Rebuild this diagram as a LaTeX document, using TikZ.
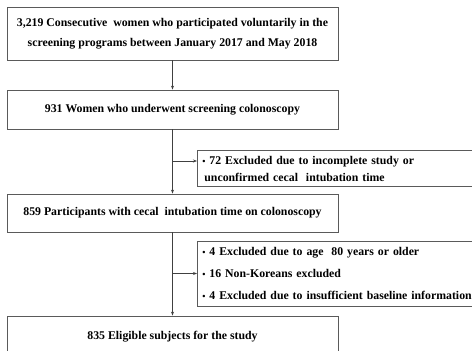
\documentclass[tikz,border=0pt]{standalone}
\usepackage{fontspec}
\setmainfont{Liberation Serif}
\usepackage{tikz}
\usetikzlibrary{positioning,arrows.meta}
\definecolor{frame}{HTML}{5A5A5A}
\definecolor{wire}{HTML}{404040}
\newcommand{\dotmark}{{\fontsize{9}{9}\selectfont\textbullet}\ }

\begin{document}
\begin{tikzpicture}[x=1pt,y=-1pt,font=\fontsize{11.8}{20}\selectfont\bfseries,
  stagebox/.style={draw=frame,line width=0.8pt,fill=white,minimum width=331pt,align=center,inner sep=0pt},
  exclbox/.style={draw=frame,line width=0.8pt,fill=white,minimum width=283pt,text width=290pt,align=left,inner xsep=5pt,inner ysep=0pt},
  flow/.style={wire,line width=0.7pt,-{Stealth[length=4pt,width=3pt]}}]
  \clip (0,0) rectangle (472,351);
  \fill[white] (0,0) rectangle (472,351);
  \node[stagebox,minimum height=53pt] (enrolled) at (172.5,33.5) {3,219 Consecutive\ \ women who participated voluntarily in the\\ screening programs between January 2017 and May 2018};
  \node[stagebox,minimum height=39pt] (colono) at (172.5,109.5) {931 Women who underwent screening colonoscopy};
  \node[stagebox,minimum height=38pt] (cecal) at (172.5,213) {859 Participants with cecal\ \ intubation time on colonoscopy};
  \node[stagebox,minimum height=42pt] (eligible) at (172.5,337) {835 Eligible subjects for the study};
  \node[exclbox,minimum height=36pt,font=\fontsize{11.8}{17}\selectfont\bfseries,anchor=west] (exclA) at (197,168.5) {\dotmark 72 Excluded due to incomplete study or\\ \hspace{2pt}unconfirmed cecal\ \ intubation time};
  \node[exclbox,minimum height=65pt,font=\fontsize{11.8}{22}\selectfont\bfseries,anchor=west] (exclB) at (197,273.5) {\dotmark 4 Excluded due to age\ \ 80 years or older\\ \dotmark 16 Non-Koreans excluded\\ \dotmark 4 Excluded due to insufficient baseline information};
  \coordinate (splitA) at (172.5,161);
  \coordinate (splitB) at (172.5,273.5);
  \draw[flow] (enrolled) -- (colono);
  \draw[flow] (colono) -- (cecal);
  \draw[flow] (cecal) -- (eligible);
  \draw[flow] (splitA) -- (splitA -| exclA.west);
  \draw[flow] (splitB) -- (exclB.west);
\end{tikzpicture}
\end{document}
